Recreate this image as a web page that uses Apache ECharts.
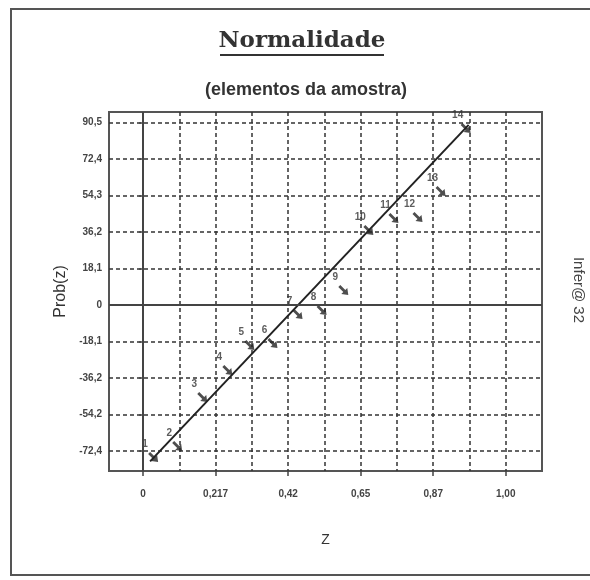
<!DOCTYPE html>
<html>
<head>
<meta charset="utf-8">
<script src="https://cdn.jsdelivr.net/npm/echarts@6/dist/echarts.min.js"></script>
<style>
	html, body { margin: 0; padding: 0; background: #fff; }
	#chart { width: 590px; height: 580px; }
</style>
</head>
<body>
<div id="chart"></div>
<script>
// sample points (z, Prob(z)) and their order numbers
var pointIds = ["1", "2", "3", "4", "5", "6", "7", "8", "9", "10", "11", "12", "13", "14"];
var zValues = [0.030, 0.102, 0.177, 0.252, 0.318, 0.387, 0.462, 0.534, 0.599, 0.674, 0.749, 0.821, 0.890, 0.965];
var probValues = [-75.4, -69.9, -45.6, -32.2, -19.8, -18.8, -4.5, -2.5, 7.4, 37.2, 43.1, 43.6, 56.5, 87.8];

// fitted line ends
var fitZ = [0.021, 0.974];
var fitProb = [-77.5, 89.3];

// axes
var xGridValues = [0, 0.1085, 0.217, 0.3255, 0.434, 0.5425, 0.651, 0.7595, 0.868, 0.9765, 1.085];
var xTickValues = [0, 0.217, 0.434, 0.651, 0.868, 1.085];
var xTickLabels = ["0", "0,217", "0,42", "0,65", "0,87", "1,00"];
var yTickValues = [-72.4, -54.3, -36.2, -18.1, 0, 18.1, 36.2, 54.3, 72.4, 90.5];
var yTickLabels = ["-72,4", "-54,2", "-36,2", "-18,1", "0", "18,1", "36,2", "54,3", "72,4", "90,5"];

var arrowPath = 'path://M0,2 L5,7 L3,9 L10,10 L9,3 L7,5 L2,0 Z';

function labelFor(values, labels, v) {
	for (var i = 0; i < values.length; i++) {
		if (Math.abs(values[i] - v) < 1e-6) {
			return labels[i];
		}
	}
	return '';
}

var points = [];
for (var i = 0; i < zValues.length; i++) {
	points.push([zValues[i], probValues[i], pointIds[i]]);
}
var fitLine = [[fitZ[0], fitProb[0]], [fitZ[1], fitProb[1]]];

var chart = echarts.init(document.getElementById('chart'));

var dashStyle = { color: '#333', width: 1.5, type: [4, 3] };

var option = {
	animation: false,
	backgroundColor: '#fff',
	grid: {
		left: 109, top: 112, right: 48, bottom: 109,
		show: true,
		borderColor: '#555',
		borderWidth: 2,
		backgroundColor: 'transparent',
		outerBoundsMode: 'none',
	},
	xAxis: [
		{
			type: 'value',
			min: -0.102,
			max: 1.1935,
			axisLine: { show: false },
			axisTick: { show: false, customValues: xGridValues },
			splitLine: { show: true, lineStyle: dashStyle },
			axisLabel: {
				customValues: xTickValues,
				margin: 18,
				fontSize: 10,
				fontWeight: 'bold',
				fontFamily: 'Liberation Sans',
				color: '#444',
				formatter: function(v) { return labelFor(xTickValues, xTickLabels, v); },
			},
			name: 'Z',
			nameLocation: 'middle',
			nameGap: 62,
			nameTextStyle: { fontSize: 14, fontFamily: 'Liberation Sans', color: '#333' },
		},
		{
			type: 'value',
			position: 'bottom',
			min: -0.102,
			max: 1.1935,
			axisLine: { show: false },
			axisTick: { show: true, customValues: xTickValues, length: 5, lineStyle: { color: '#444', width: 1.5 } },
			splitLine: { show: false },
			axisLabel: { show: false },
		}
	],
	yAxis: {
		type: 'value',
		min: -82.3,
		max: 95.7,
		axisLine: { show: false },
		axisTick: { show: true, customValues: yTickValues, length: 4, lineStyle: { color: '#444', width: 1.5 } },
		splitLine: { show: true, lineStyle: dashStyle },
		axisLabel: {
			customValues: yTickValues,
			margin: 7,
			fontSize: 10,
			fontWeight: 'bold',
			fontFamily: 'Liberation Sans',
			color: '#444',
			formatter: function(v) { return labelFor(yTickValues, yTickLabels, v); },
		},
		name: 'Prob(z)',
		nameLocation: 'middle',
		nameGap: 38,
		nameTextStyle: { fontSize: 16, fontFamily: 'Liberation Sans', color: '#333' },
	},
	series: [
		{
			type: 'line',
			data: fitLine,
			symbol: 'none',
			lineStyle: { color: '#222', width: 2 },
			z: 3,
			markLine: {
				silent: true,
				symbol: 'none',
				label: { show: false },
				lineStyle: { color: '#444', width: 2, type: 'solid' },
				data: [{ xAxis: 0 }, { yAxis: 0 }],
			},
		},
		{
			type: 'scatter',
			data: points,
			symbol: arrowPath,
			symbolSize: 10,
			itemStyle: { color: '#222' },
			z: 4,
			label: {
				show: true,
				position: 'top',
				offset: [-8, 2],
				formatter: function(p) { return p.data[2]; },
				fontSize: 10,
				fontWeight: 'bold',
				fontFamily: 'Liberation Sans',
				color: '#333',
			},
		}
	],
	graphic: [
		{
			type: 'rect',
			shape: { x: 11, y: 9, width: 600, height: 566 },
			style: { fill: 'none', stroke: '#555', lineWidth: 2 },
			silent: true,
		},
		{
			type: 'text',
			x: 302, y: 41,
			style: {
				text: 'Normalidade',
				align: 'center', verticalAlign: 'middle',
				font: 'bold 23px "DejaVu Serif"',
				fill: '#333',
			},
		},
		{
			type: 'line',
			shape: { x1: 220, y1: 55, x2: 384, y2: 55 },
			style: { stroke: '#333', lineWidth: 2 },
		},
		{
			type: 'text',
			x: 306, y: 90,
			style: {
				text: '(elementos da amostra)',
				align: 'center', verticalAlign: 'middle',
				font: 'bold 18px "Liberation Sans"',
				fill: '#333',
			},
		},
		{
			type: 'text',
			x: 578, y: 290,
			rotation: -Math.PI / 2,
			style: {
				text: 'Infer@ 32',
				align: 'center', verticalAlign: 'middle',
				font: '15px "Liberation Sans"',
				fill: '#444',
			},
		}
	],
};

chart.setOption(option);
</script>
</body>
</html>
